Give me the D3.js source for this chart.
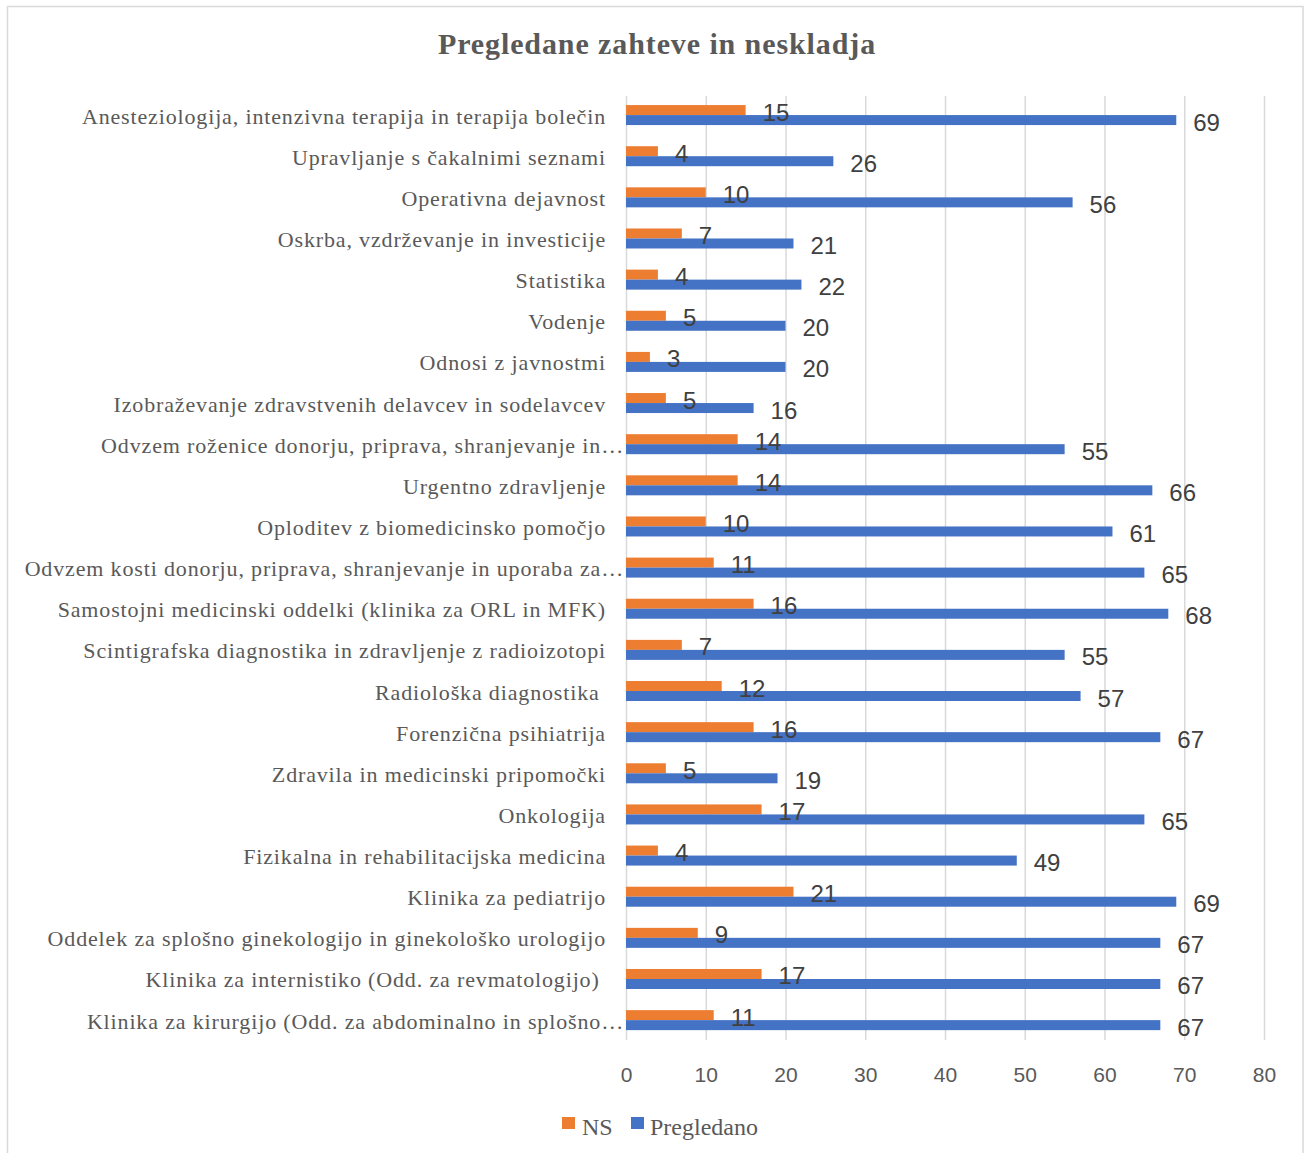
<!DOCTYPE html>
<html>
<head>
<meta charset="utf-8">
<script src="https://cdn.jsdelivr.net/npm/d3@7"></script>
<style>
  html, body { margin: 0; padding: 0; background: #ffffff; }
  svg text { white-space: pre; }
</style>
</head>
<body>
<svg id="chart" width="1306" height="1153"></svg>
<script>
const title = "Pregledane zahteve in neskladja";
const categories = [
  "Anesteziologija, intenzivna terapija in terapija bolečin",
  "Upravljanje s čakalnimi seznami",
  "Operativna dejavnost",
  "Oskrba, vzdrževanje in investicije",
  "Statistika",
  "Vodenje",
  "Odnosi z javnostmi",
  "Izobraževanje zdravstvenih delavcev in sodelavcev",
  "Odvzem roženice donorju, priprava, shranjevanje in…",
  "Urgentno zdravljenje",
  "Oploditev z biomedicinsko pomočjo",
  "Odvzem kosti donorju, priprava, shranjevanje in uporaba za…",
  "Samostojni medicinski oddelki (klinika za ORL in MFK)",
  "Scintigrafska diagnostika in zdravljenje z radioizotopi",
  "Radiološka diagnostika ",
  "Forenzična psihiatrija",
  "Zdravila in medicinski pripomočki",
  "Onkologija",
  "Fizikalna in rehabilitacijska medicina",
  "Klinika za pediatrijo",
  "Oddelek za splošno ginekologijo in ginekološko urologijo",
  "Klinika za internistiko (Odd. za revmatologijo) ",
  "Klinika za kirurgijo (Odd. za abdominalno in splošno…"
];
const seriesNames = ["NS", "Pregledano"];
const nsValues = [15, 4, 10, 7, 4, 5, 3, 5, 14, 14, 10, 11, 16, 7, 12, 16, 5, 17, 4, 21, 9, 17, 11];
const pregledanoValues = [69, 26, 56, 21, 22, 20, 20, 16, 55, 66, 61, 65, 68, 55, 57, 67, 19, 65, 49, 69, 67, 67, 67];
const xTicks = [0, 10, 20, 30, 40, 50, 60, 70, 80];

const colors = { "NS": "#ED7D31", "Pregledano": "#4472C4" };
const textGray = "#595959";
const gridGray = "#D9D9D9";

const svg = d3.select("#chart");

// chart border
svg.append("rect")
  .attr("x", 7.5).attr("y", 6.5)
  .attr("width", 1295.5).attr("height", 1150)
  .attr("fill", "#fff").attr("stroke", gridGray).attr("stroke-width", 1.5);

// title
svg.append("text")
  .attr("x", 657).attr("y", 54)
  .attr("text-anchor", "middle")
  .attr("font-family", "Liberation Serif, Times New Roman, serif")
  .attr("font-weight", "bold")
  .attr("font-size", 30)
  .attr("letter-spacing", 0.9)
  .attr("fill", textGray)
  .text(title);

const x = d3.scaleLinear().domain([0, 80]).range([626, 1264]);
const y = d3.scaleBand().domain(categories).range([94.5, 1040.7]).padding(0);
const barH = 10;

// gridlines
const xAxis = d3.axisBottom(x).tickValues(xTicks).tickSize(-(1040 - 96)).tickFormat(d3.format("d")).tickPadding(14);
const gx = svg.append("g").attr("transform", "translate(0,1040)").call(xAxis);
gx.select(".domain").remove();
gx.selectAll(".tick line").attr("stroke", gridGray).attr("stroke-width", 1.5);
gx.selectAll(".tick text")
  .attr("font-family", "Liberation Sans, Arial, sans-serif")
  .attr("font-size", 21)
  .attr("fill", textGray)
  .attr("dy", "0.71em")
  .attr("y", 27);

// category labels
svg.append("g").selectAll("text")
  .data(categories)
  .join("text")
  .attr("x", d => d.endsWith("…") ? 624 : 606)
  .attr("y", d => y(d) + y.bandwidth() / 2 + 1)
  .attr("dominant-baseline", "central")
  .attr("text-anchor", "end")
  .attr("font-family", "Liberation Serif, Times New Roman, serif")
  .attr("font-size", 22)
  .attr("letter-spacing", 0.85)
  .attr("fill", textGray)
  .text(d => d);

const rows = categories.map((c, i) => ({ cat: c, NS: nsValues[i], Pregledano: pregledanoValues[i] }));
const sub = d3.scaleBand().domain(seriesNames).range([0, barH * 2]);
const offset = y.bandwidth() / 2 - barH;

seriesNames.forEach(s => {
  const g = svg.append("g");
  g.selectAll("rect")
    .data(rows)
    .join("rect")
    .attr("x", x(0))
    .attr("y", d => y(d.cat) + offset + sub(s))
    .attr("width", d => x(d[s]) - x(0))
    .attr("height", barH)
    .attr("fill", colors[s]);
});

seriesNames.forEach(s => {
  svg.append("g").selectAll("text")
    .data(rows)
    .join("text")
    .attr("x", d => x(d[s]) + 17)
    .attr("y", d => y(d.cat) + offset + sub(s) + barH / 2 + 2)
    .attr("dominant-baseline", "central")
    .attr("font-family", "Liberation Sans, Arial, sans-serif")
    .attr("font-size", 24)
    .attr("fill", "#404040")
    .text(d => d[s]);
});

// legend
const legend = svg.append("g");
const legendItems = [
  { name: "NS", sx: 562, tx: 582 },
  { name: "Pregledano", sx: 631, tx: 650 }
];
legendItems.forEach(it => {
  legend.append("rect").attr("x", it.sx).attr("y", 1117).attr("width", 13).attr("height", 12).attr("fill", colors[it.name]);
  legend.append("text").attr("x", it.tx).attr("y", 1135)
    .attr("font-family", "Liberation Serif, Times New Roman, serif")
    .attr("font-size", 24).attr("fill", textGray).text(it.name);
});
</script>
</body>
</html>
